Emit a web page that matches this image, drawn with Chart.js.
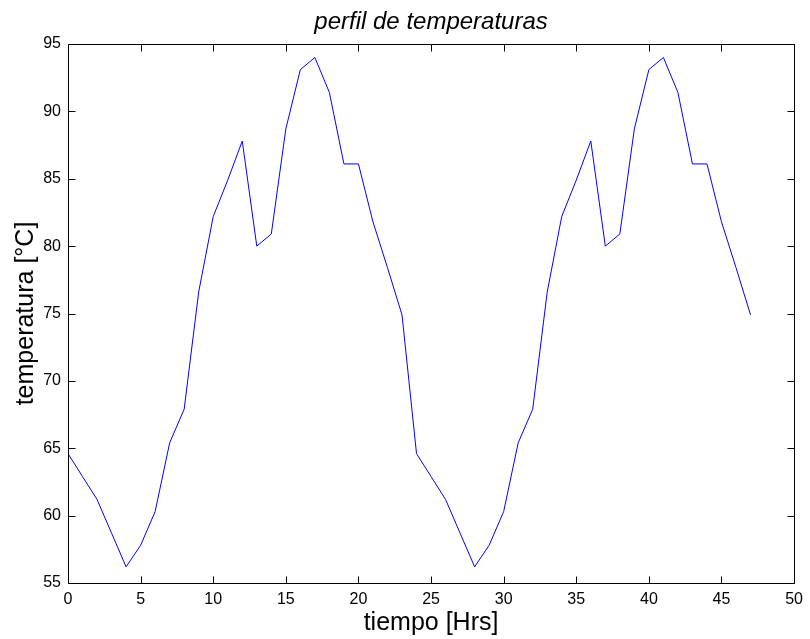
<!DOCTYPE html>
<html>
<head>
<meta charset="utf-8">
<script src="https://cdn.jsdelivr.net/npm/chart.js@4/dist/chart.umd.min.js"></script>
<style>
  html,body{margin:0;padding:0;background:#fff;}
  #wrap{width:810px;height:639px;}
</style>
</head>
<body>
<div id="wrap"><canvas id="c"></canvas></div>
<script>
// hours 0..47
let hours = [0,1,2,3,4,5,6,7,8,9,10,11,12,13,14,15,16,17,18,19,20,21,22,23,
             24,25,26,27,28,29,30,31,32,33,34,35,36,37,38,39,40,41,42,43,44,45,46,47];
// temperatures
let temps = [64.6,62.9,61.2,58.7,56.2,57.8,60.3,65.4,67.9,76.6,82.2,84.9,
             87.8,80.0,80.9,88.7,93.1,94.0,91.4,86.1,86.1,81.8,78.4,74.9,
             64.6,62.9,61.2,58.7,56.2,57.8,60.3,65.4,67.9,76.6,82.2,84.9,
             87.8,80.0,80.9,88.7,93.1,94.0,91.4,86.1,86.1,81.8,78.4,74.9];
let xTicks = [0,5,10,15,20,25,30,35,40,45,50];
let yTicks = [55,60,65,70,75,80,85,90,95];
let titleText = 'perfil de temperaturas';

let fontName = "'Liberation Sans', Arial, sans-serif";

// box + inward ticks like matlab, title centred over the axes
const frame = {
  id: 'frame',
  afterDraw(chart){
    let ctx = chart.ctx;
    let a = chart.chartArea;
    let sx = chart.scales.x, sy = chart.scales.y;
    let L = Math.round(a.left)+0.5, R = Math.round(a.right)+0.5;
    let T = Math.round(a.top)+0.5, B = Math.round(a.bottom)+0.5;
    ctx.save();
    ctx.strokeStyle = '#000';
    ctx.lineWidth = 1;
    ctx.beginPath();
    ctx.rect(L, T, R-L, B-T);
    xTicks.forEach(v => {
      let px = Math.round(sx.getPixelForValue(v))+0.5;
      ctx.moveTo(px, B); ctx.lineTo(px, B-7);
      ctx.moveTo(px, T); ctx.lineTo(px, T+7);
    });
    yTicks.forEach(v => {
      let py = Math.round(sy.getPixelForValue(v))+0.5;
      ctx.moveTo(L, py); ctx.lineTo(L+7, py);
      ctx.moveTo(R, py); ctx.lineTo(R-7, py);
    });
    ctx.stroke();

    ctx.fillStyle = '#000';
    ctx.font = 'italic 24px ' + fontName;
    ctx.textAlign = 'center';
    ctx.textBaseline = 'middle';
    ctx.fillText(titleText, (a.left+a.right)/2, 22);
    ctx.restore();
  }
};

let points = hours.map((h,i) => ({x:h, y:temps[i]}));

new Chart(document.getElementById('c'), {
  type: 'line',
  data: {
    datasets: [{
      data: points,
      borderColor: '#0000ff',
      borderWidth: 1,
      pointRadius: 0,
      tension: 0,
      fill: false
    }]
  },
  options: {
    responsive: true,
    maintainAspectRatio: false,
    animation: false,
    layout: { padding: { left: 0, right: 12, top: 44, bottom: 0 } },
    plugins: {
      legend: { display: false },
      tooltip: { enabled: false },
      title: { display: false }
    },
    scales: {
      x: {
        type: 'linear',
        min: 0, max: 50,
        afterBuildTicks: s => { s.ticks = xTicks.map(v => ({value:v})); },
        afterFit: s => { s.height = 56; },
        grid: { display: false, drawTicks: false },
        border: { display: false },
        ticks: { color: '#000', padding: 7, maxRotation: 0, font: { family: fontName, size: 16 } },
        title: {
          display: true,
          text: 'tiempo [Hrs]',
          color: '#000',
          font: { family: fontName, size: 25 },
          padding: { top: 0, bottom: 1 }
        }
      },
      y: {
        min: 55, max: 95,
        afterBuildTicks: s => { s.ticks = yTicks.map(v => ({value:v})); },
        afterFit: s => { s.width = 68; },
        grid: { display: false, drawTicks: false },
        border: { display: false },
        ticks: { color: '#000', padding: 7, font: { family: fontName, size: 16 } },
        title: {
          display: true,
          text: 'temperatura [°C]',
          color: '#000',
          font: { family: fontName, size: 25 },
          padding: { top: 11, bottom: 0 }
        }
      }
    }
  },
  plugins: [frame]
});
</script>
</body>
</html>
